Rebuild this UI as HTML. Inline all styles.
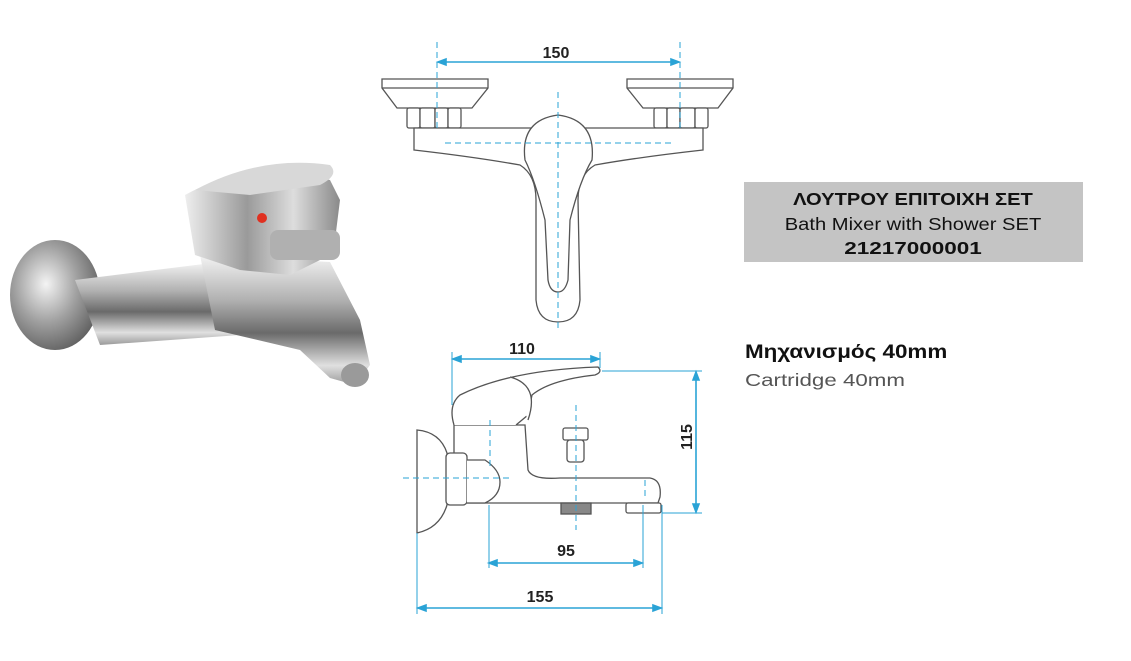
<!DOCTYPE html>
<html><head><meta charset="utf-8"><style>
html,body{margin:0;padding:0;background:#fff;width:1131px;height:661px;overflow:hidden}
svg{position:absolute;left:0;top:0}
.t{font-family:"Liberation Sans","DejaVu Sans",sans-serif}
</style></head><body>
<svg width="1131" height="661" viewBox="0 0 1131 661" xmlns="http://www.w3.org/2000/svg">
<defs>
<linearGradient id="ch" x1="0" y1="0" x2="0" y2="1">
<stop offset="0" stop-color="#f4f4f4"/><stop offset="0.35" stop-color="#b0b0b0"/><stop offset="0.6" stop-color="#6a6a6a"/><stop offset="0.85" stop-color="#e0e0e0"/><stop offset="1" stop-color="#9a9a9a"/></linearGradient>
<linearGradient id="ch2" x1="0" y1="0" x2="1" y2="0">
<stop offset="0" stop-color="#eeeeee"/><stop offset="0.4" stop-color="#9a9a9a"/><stop offset="0.7" stop-color="#dddddd"/><stop offset="1" stop-color="#8a8a8a"/></linearGradient>
<radialGradient id="fl" cx="0.4" cy="0.4" r="0.7"><stop offset="0" stop-color="#f4f4f4"/><stop offset="0.5" stop-color="#a0a0a0"/><stop offset="1" stop-color="#555"/></radialGradient>
</defs>
<g>
<ellipse cx="55" cy="295" rx="45" ry="55" fill="url(#fl)"/>
<path d="M75 280 L220 262 L235 268 L250 300 L240 335 L100 345 Z" fill="url(#ch)"/>
<path d="M200 255 L330 262 L360 320 L370 365 L355 385 L330 378 L300 350 L215 330 Z" fill="url(#ch)"/>
<path d="M185 195 Q230 170 290 172 L330 180 L340 200 L335 240 L320 260 L290 275 L240 270 L195 255 Z" fill="url(#ch2)"/>
<path d="M195 190 Q260 155 330 165 Q340 175 320 185 L250 195 Z" fill="#d8d8d8"/>
<rect x="270" y="230" width="70" height="30" rx="8" fill="#b0b0b0"/>
<circle cx="262" cy="218" r="5" fill="#e03020"/>
<ellipse cx="355" cy="375" rx="14" ry="12" fill="#9a9a9a"/>
</g>
<g fill="#fff" stroke="#555" stroke-width="1.3">
<path d="M382 79 H488 V88 L472 108 H397 L382 88 Z"/>
<path d="M627 79 H733 V88 L718 108 H643 L627 88 Z"/>
<path d="M382 88 H488"/><path d="M627 88 H733"/>
<rect x="407" y="108" width="13" height="20" rx="2"/><rect x="420" y="108" width="15" height="20" rx="2"/><rect x="435" y="108" width="13" height="20" rx="2"/><rect x="448" y="108" width="13" height="20" rx="2"/>
<rect x="654" y="108" width="13" height="20" rx="2"/><rect x="667" y="108" width="13" height="20" rx="2"/><rect x="680" y="108" width="15" height="20" rx="2"/><rect x="695" y="108" width="13" height="20" rx="2"/>
<path d="M414 128 H703 V150 Q640 157 595 165 Q578 175 578 200 L580 300 Q578 322 558 322 Q538 322 536 300 L536 200 Q536 175 520 165 Q475 157 414 150 Z"/>
<path d="M525 160 Q520 120 558 115 Q596 120 592 160 Q580 180 570 220 L568 280 Q565 292 558 292 Q550 292 548 280 L545 220 Q535 180 525 160 Z"/>
</g>
<g stroke="#2aa3d6" stroke-width="1" fill="none" stroke-dasharray="6,4">
<path d="M437 42 V132"/><path d="M680 42 V132"/><path d="M558 92 V328"/><path d="M445 143 H675"/>
</g>
<g stroke="#2aa3d6" stroke-width="1.6" fill="#2aa3d6">
<path d="M440 62 H677"/><path d="M438 62 l8 -3 v6 z"/><path d="M679 62 l-8 -3 v6 z"/>
</g>
<text x="556" y="58" text-anchor="middle" class="t" font-size="16" font-weight="bold" fill="#222">150</text>
<g fill="#fff" stroke="#555" stroke-width="1.3">
<path d="M417 430 Q440 432 447 453 V505 Q440 528 417 533 Z"/>
<path d="M454 425 H525 L528 470 Q532 480 560 478 H650 Q662 480 660 497 L658 503 H454 Z"/>
<path d="M454 425 Q448 405 460 395 Q510 370 598 367 Q603 372 595 375 Q550 380 532 395 L528 415 L516 425"/>
<path d="M510 377 Q540 385 528 420"/>
<rect x="446" y="453" width="21" height="52" rx="4"/>
<path d="M467 460 H485 Q500 470 500 482 Q500 496 485 503 H467"/>
<rect x="563" y="428" width="25" height="12" rx="2"/>
<rect x="567" y="440" width="17" height="22" rx="3"/>
<rect x="561" y="503" width="30" height="11" fill="#888"/>
<rect x="626" y="503" width="35" height="10" rx="2"/>
</g>
<g stroke="#2aa3d6" stroke-width="1" fill="none" stroke-dasharray="6,4">
<path d="M403 478 H510"/><path d="M576 405 V530"/><path d="M490 420 V470"/><path d="M645 480 V500"/>
</g>
<g stroke="#2aa3d6" stroke-width="1" fill="none">
<path d="M452 352 V405"/><path d="M600 352 V368"/><path d="M602 371 H702"/><path d="M662 513 H702"/>
<path d="M417 533 V614"/><path d="M662 505 V614"/><path d="M489 505 V568"/><path d="M643 505 V568"/>
</g>
<g stroke="#2aa3d6" stroke-width="1.6" fill="#2aa3d6">
<path d="M455 359 H597"/><path d="M453 359 l8 -3 v6 z"/><path d="M599 359 l-8 -3 v6 z"/>
<path d="M696 374 V510"/><path d="M696 372 l-3 8 h6 z"/><path d="M696 512 l-3 -8 h6 z"/>
<path d="M491 563 H640"/><path d="M489 563 l8 -3 v6 z"/><path d="M642 563 l-8 -3 v6 z"/>
<path d="M420 608 H659"/><path d="M418 608 l8 -3 v6 z"/><path d="M661 608 l-8 -3 v6 z"/>
</g>
<g class="t" font-size="16" font-weight="bold" fill="#222" text-anchor="middle">
<text x="522" y="354">110</text>
<text x="566" y="556">95</text>
<text x="540" y="602">155</text>
<text x="0" y="0" transform="translate(692,437) rotate(-90)">115</text>
</g>
<rect x="744" y="182" width="339" height="80" fill="#c4c4c4"/>
<g class="t" fill="#111" text-anchor="middle">
<text x="913" y="205" font-size="18" font-weight="bold" transform="translate(913 0) scale(1.12 1) translate(-913 0)">ΛΟΥΤΡΟΥ ΕΠΙΤΟΙΧΗ ΣΕΤ</text>
<text x="913" y="230" font-size="18" transform="translate(913 0) scale(1.12 1) translate(-913 0)">Bath Mixer with Shower SET</text>
<text x="913" y="254" font-size="18" font-weight="bold" transform="translate(913 0) scale(1.25 1) translate(-913 0)">21217000001</text>
</g>
<text x="745" y="358" class="t" font-size="19" font-weight="bold" fill="#111" transform="translate(745 0) scale(1.18 1) translate(-745 0)">Μηχανισμός 40mm</text>
<text x="745" y="386" class="t" font-size="18" fill="#555" transform="translate(745 0) scale(1.24 1) translate(-745 0)">Cartridge 40mm</text>
</svg>
</body></html>
